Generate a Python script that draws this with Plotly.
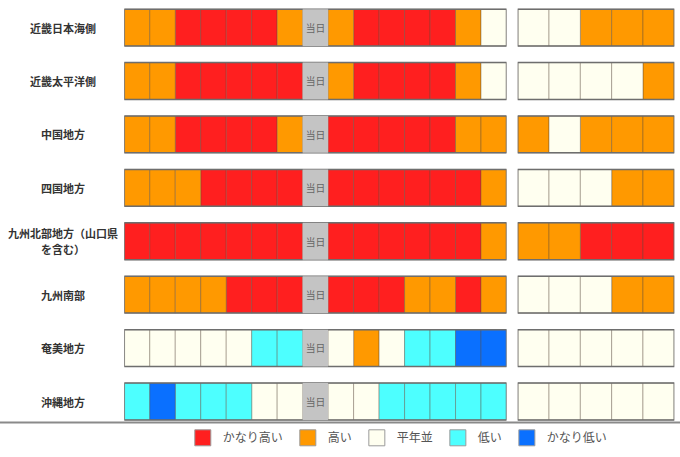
import plotly.graph_objs as go

# 地方ごとの気温の見通し（左: 日別15日分、右: 5区分）
regions = ['近畿日本海側', '近畿太平洋側', '中国地方', '四国地方',
           '九州北部地方', '九州南部', '奄美地方', '沖縄地方']
# ラベル（2行になるものはリストで）
region_labels = [['近畿日本海側'], ['近畿太平洋側'], ['中国地方'], ['四国地方'],
                 ['九州北部地方（山口県', 'を含む）'], ['九州南部'], ['奄美地方'], ['沖縄地方']]

# 2=かなり高い 1=高い 0=平年並 -1=低い -2=かなり低い  None=当日
daily = [
    [1, 1, 2, 2, 2, 2, 1, None, 1, 2, 2, 2, 2, 1, 0],
    [1, 1, 2, 2, 2, 2, 2, None, 1, 2, 2, 2, 2, 1, 0],
    [1, 1, 2, 2, 2, 2, 1, None, 2, 2, 2, 2, 2, 1, 1],
    [1, 1, 1, 2, 2, 2, 2, None, 2, 2, 2, 2, 2, 2, 1],
    [2, 2, 2, 2, 2, 2, 2, None, 2, 2, 2, 2, 2, 2, 1],
    [1, 1, 1, 1, 2, 2, 2, None, 2, 2, 2, 1, 1, 2, 1],
    [0, 0, 0, 0, 0, -1, -1, None, 0, 1, 0, -1, -1, -2, -2],
    [-1, -2, -1, -1, -1, 0, 0, None, 0, 0, -1, -1, -1, -1, -1],
]
weekly = [
    [0, 0, 1, 1, 1],
    [0, 0, 0, 0, 1],
    [1, 0, 1, 1, 1],
    [0, 0, 0, 1, 1],
    [1, 1, 2, 2, 2],
    [0, 0, 0, 1, 1],
    [0, 0, 0, 0, 0],
    [0, 0, 0, 0, 0],
]

levels = [2, 1, 0, -1, -2]
level_names = ['かなり高い', '高い', '平年並', '低い', 'かなり低い']
level_colors = ['#ff1f1f', '#ff9900', '#fffff0', '#4dffff', '#0a70ff']
today_text = '当日'

cell_line = dict(color='rgba(90,75,60,0.4)', width=1)
font = 'Noto Sans CJK JP'

fig = go.Figure()


def add_cells(rows, xaxis):
    for lv, name, col in zip(levels, level_names, level_colors):
        ys, bases = [], []
        for r, row in enumerate(rows):
            for j, v in enumerate(row):
                if v == lv:
                    ys.append(regions[r])
                    bases.append(j)
        fig.add_trace(go.Bar(y=ys, x=[1] * len(ys), base=bases, orientation='h',
                             width=0.69, marker=dict(color=col, line=cell_line),
                             name=name, showlegend=False, xaxis=xaxis, yaxis='y',
                             hoverinfo='skip'))
    # 外枠
    fig.add_trace(go.Bar(y=regions, x=[len(rows[0])] * len(regions), base=[0] * len(regions),
                         orientation='h', width=0.69,
                         marker=dict(color='rgba(0,0,0,0)', line=dict(color='#6e6e6e', width=1.5)),
                         showlegend=False, xaxis=xaxis, yaxis='y', hoverinfo='skip'))


add_cells(daily, 'x')

# 当日
ys, bases = [], []
for r, row in enumerate(daily):
    for j, v in enumerate(row):
        if v is None:
            ys.append(regions[r])
            bases.append(j)
fig.add_trace(go.Bar(y=ys, x=[1] * len(ys), base=bases, orientation='h', width=0.69,
                     marker=dict(color='#c4c4c4', line=dict(width=0)),
                     text=[today_text] * len(ys), textposition='inside',
                     insidetextanchor='middle', textangle=0,
                     textfont=dict(color='#666666', size=10, family=font),
                     showlegend=False, hoverinfo='skip'))

add_cells(weekly, 'x2')

# 凡例用
for name, col in zip(level_names, level_colors):
    fig.add_trace(go.Scatter(x=[None], y=[None], mode='markers', name=name,
                             marker=dict(symbol='square', size=16, color=col,
                                         line=dict(color='#9a9a9a', width=1))))

for reg, lines in zip(regions, region_labels):
    for k, line in enumerate(lines):
        shift = 8 * (len(lines) - 1) - 16 * k
        fig.add_annotation(x=63 / 680, xref='paper', y=reg, yref='y', text='<b>' + line + '</b>',
                           showarrow=False, xanchor='center', yshift=shift,
                           font=dict(size=11, color='#333333', family=font))

fig.add_shape(type='line', xref='paper', yref='paper', x0=0, x1=1, y0=0.0755, y1=0.0755,
              line=dict(color='#8a8a8a', width=2))

fig.update_layout(
    width=680, height=457,
    margin=dict(l=0, r=0, t=0, b=0),
    paper_bgcolor='white', plot_bgcolor='white',
    barmode='overlay', hovermode=False,
    xaxis=dict(domain=[124.3 / 680, 506.5 / 680], range=[0, 15], visible=False),
    xaxis2=dict(domain=[517.7 / 680, 674.3 / 680], range=[0, 5], visible=False, anchor='y'),
    yaxis=dict(domain=[0.063, 0.998], categoryorder='array', categoryarray=regions,
               autorange='reversed', visible=False),
    legend=dict(orientation='h', x=0.585, xanchor='center', y=0.042, yanchor='middle',
                font=dict(size=12, color='#555555', family=font), bgcolor='rgba(0,0,0,0)'),
    font=dict(family=font),
)

fig.write_html('out.html', config={'displayModeBar': False},
               post_script="document.body.style.margin='0';")
